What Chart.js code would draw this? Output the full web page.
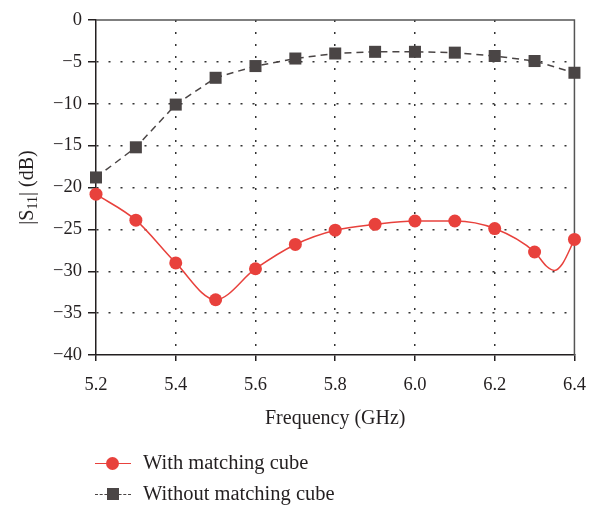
<!DOCTYPE html>
<html lang="en">
<head>
<meta charset="UTF-8">
<title>|S11| vs Frequency</title>
<script src="https://cdn.jsdelivr.net/npm/chart.js"></script>
<style>
    body { margin: 0; background: #fff; font-family: 'Liberation Serif', serif; color: #231f20; }
    .wrap { position: relative; width: 599px; height: 507px; }
    .legend { position: absolute; left: 95px; top: 448px; font-size: 20.5px; }
    .item { position: relative; height: 31px; line-height: 28px; padding-left: 48px; }
    .sym { position: absolute; left: 0; top: 15px; width: 36px; }
    .sym .ln { position: absolute; left: 0; right: 0; top: 0; height: 0; }
    .red .ln { border-top: 1.5px solid #e8413c; }
    .red .mk { position: absolute; left: 11px; top: -6px; width: 13px; height: 13px; border-radius: 50%; background: #e8413c; }
    .blk .ln { border-top: 1.5px dashed #4a4545; }
    .blk .mk { position: absolute; left: 12px; top: -6px; width: 12px; height: 12px; background: #4a4545; }
</style>
</head>
<body>
<div class="wrap">
    <canvas id="s11Chart" width="599" height="507"></canvas>
    <div class="legend">
        <div class="item"><span class="sym red"><span class="ln"></span><span class="mk"></span></span>With matching cube</div>
        <div class="item"><span class="sym blk"><span class="ln"></span><span class="mk"></span></span>Without matching cube</div>
    </div>
</div>

<script>
    // measured values (GHz / dB)
    const freq = [5.2, 5.3, 5.4, 5.5, 5.6, 5.7, 5.8, 5.9, 6.0, 6.1, 6.2, 6.3, 6.4];
    const withCube = [-20.8, -23.9, -29.0, -33.4, -29.7, -26.8, -25.1, -24.4, -24.0, -24.0, -24.9, -27.7, -26.2];
    const withoutCube = [-18.8, -15.2, -10.1, -6.9, -5.5, -4.6, -4.0, -3.8, -3.8, -3.9, -4.3, -4.9, -6.3];
    // extra unmarked samples of the red curve (the dip before 6.4)
    const dipFreq = [6.33, 6.35, 6.37];
    const dipValues = [-29.4, -29.9, -29.1];

    const xTicks = [5.2, 5.4, 5.6, 5.8, 6.0, 6.2, 6.4];

    const redPts = freq.map((f, i) => ({ x: f, y: withCube[i], m: true }))
        .concat(dipFreq.map((f, i) => ({ x: f, y: dipValues[i], m: false })))
        .sort((a, b) => a.x - b.x);
    const blackPts = freq.map((f, i) => ({ x: f, y: withoutCube[i] }));

    const tickFont = { family: 'Liberation Serif', size: 18.5 };
    const edge = (ctx, n) => ctx.index === 0 || ctx.index === n - 1;

    // top/right frame + y title with subscript
    const extras = {
        id: 'extras',
        beforeDatasetsDraw(chart) {
            const { ctx, chartArea: a } = chart;
            ctx.save();
            ctx.strokeStyle = '#555';
            ctx.lineWidth = 1.5;
            ctx.beginPath();
            ctx.moveTo(a.left, a.top);
            ctx.lineTo(a.right, a.top);
            ctx.lineTo(a.right, a.bottom);
            ctx.stroke();
            ctx.restore();
        },
        afterDraw(chart) {
            const { ctx, chartArea: a } = chart;
            ctx.save();
            ctx.translate(28, (a.top + a.bottom) / 2);
            ctx.rotate(-Math.PI / 2);
            ctx.fillStyle = '#231f20';
            ctx.textBaseline = 'middle';
            const big = "20px 'Liberation Serif'", small = "14px 'Liberation Serif'";
            const parts = [['|S', big, 0], ['11', small, 5], ['| (dB)', big, 0]];
            let w = 0;
            parts.forEach(p => { ctx.font = p[1]; w += ctx.measureText(p[0]).width; });
            let x = -w / 2;
            parts.forEach(p => {
                ctx.font = p[1];
                ctx.fillText(p[0], x, p[2]);
                x += ctx.measureText(p[0]).width;
            });
            ctx.restore();
        }
    };

    new Chart(document.getElementById('s11Chart'), {
        type: 'line',
        data: {
            datasets: [
                {
                    label: 'With matching cube',
                    data: redPts,
                    borderColor: '#e8413c',
                    backgroundColor: '#e8413c',
                    borderWidth: 1.5,
                    cubicInterpolationMode: 'monotone',
                    pointStyle: 'circle',
                    pointRadius: ctx => (ctx.raw && ctx.raw.m ? 6.5 : 0),
                    pointBorderWidth: 0,
                    clip: false
                },
                {
                    label: 'Without matching cube',
                    data: blackPts,
                    borderColor: '#4a4545',
                    backgroundColor: '#4a4545',
                    borderWidth: 1.5,
                    borderDash: [7, 5],
                    tension: 0,
                    pointStyle: 'rect',
                    pointRadius: 8.5,
                    pointBorderWidth: 0,
                    clip: false
                }
            ]
        },
        options: {
            responsive: false,
            animation: false,
            events: [],
            layout: { padding: { left: 0, top: 20, right: 21, bottom: 72 } },
            plugins: { legend: { display: false }, tooltip: { enabled: false } },
            scales: {
                x: {
                    type: 'linear',
                    min: 5.2,
                    max: 6.4,
                    afterBuildTicks: s => { s.ticks = xTicks.map(v => ({ value: v })); },
                    afterFit: s => { s.height = 80; },
                    ticks: { callback: v => v.toFixed(1), color: '#231f20', font: tickFont, padding: 13, maxRotation: 0 },
                    grid: {
                        color: ctx => edge(ctx, xTicks.length) ? 'rgba(0,0,0,0)' : '#333',
                        lineWidth: 1.5,
                        tickColor: '#231f20',
                        tickLength: 6,
                        tickBorderDash: []
                    },
                    border: { color: '#231f20', width: 1.5, dash: [2, 10] },
                    title: { display: true, text: 'Frequency (GHz)', color: '#231f20', font: { family: 'Liberation Serif', size: 20 }, padding: { top: 0 } }
                },
                y: {
                    min: -40,
                    max: 0,
                    ticks: { stepSize: 5, callback: v => String(v).replace('-', '\u2212'), color: '#231f20', font: tickFont, padding: 6 },
                    afterFit: s => { s.width = 96; },
                    grid: {
                        color: ctx => edge(ctx, 9) ? 'rgba(0,0,0,0)' : '#333',
                        lineWidth: 1.5,
                        tickColor: '#231f20',
                        tickLength: 8,
                        tickBorderDash: []
                    },
                    border: { color: '#231f20', width: 1.5, dash: [2, 10] }
                }
            }
        },
        plugins: [extras]
    });
</script>
</body>
</html>
